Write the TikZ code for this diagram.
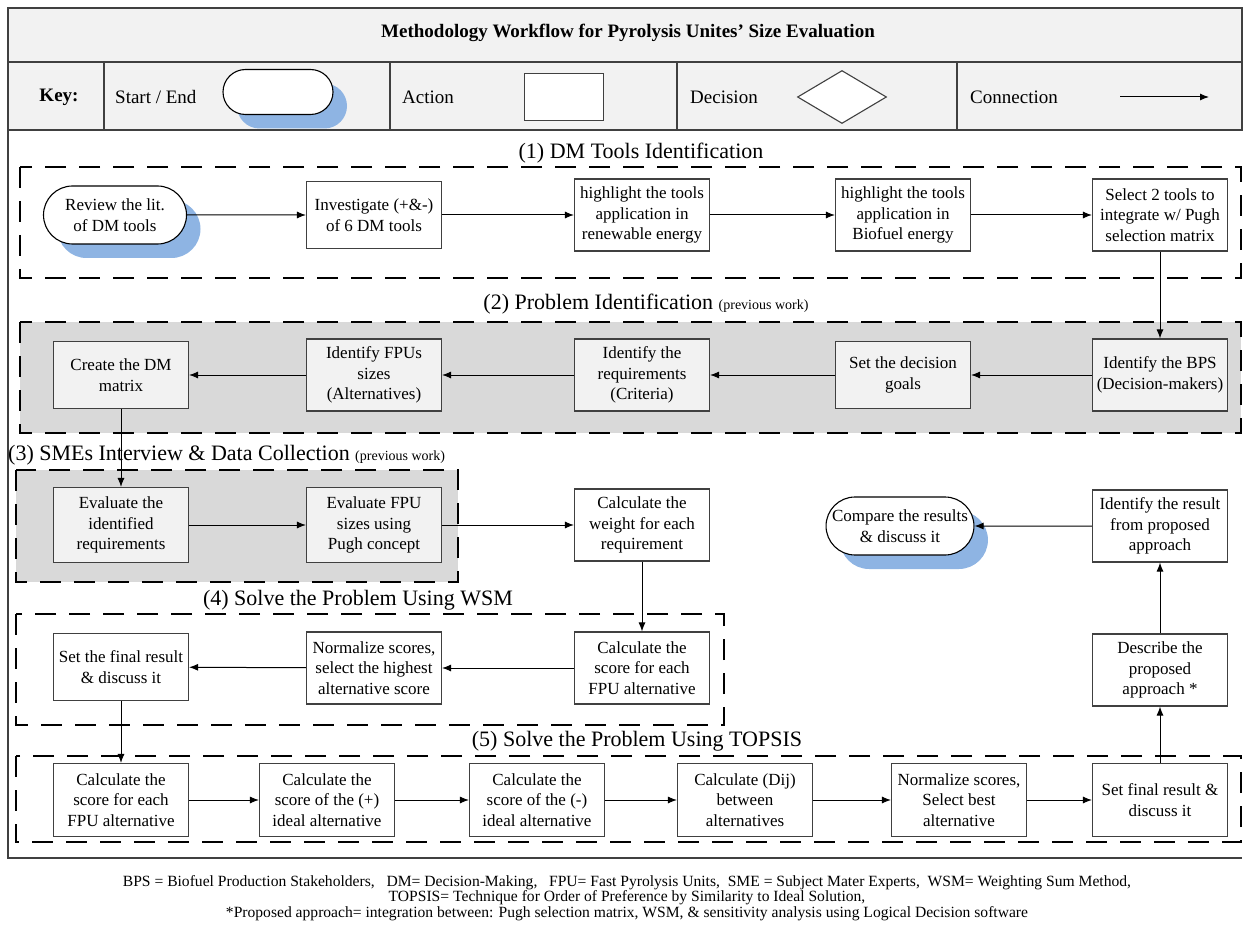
\documentclass[tikz,border=0pt]{standalone}
\usepackage{fontspec}
\setmainfont{Liberation Serif}
\usetikzlibrary{arrows.meta,shapes.misc,shapes.geometric,shadows}
\definecolor{keygray}{HTML}{F2F2F2}
\definecolor{secgray}{HTML}{D9D9D9}
\definecolor{shadeblue}{HTML}{8EB4E3}
\definecolor{linegray}{HTML}{404040}
\newcommand{\bxfont}{\fontsize{17}{20.5}\selectfont}
\newcommand{\secfont}{\fontsize{22}{26}\selectfont}
\newcommand{\prevfont}{\fontsize{14}{16}\selectfont}

\begin{document}
\begin{tikzpicture}[x=1pt,y=-1pt,
    act/.style={draw=linegray, line width=1.1pt, fill=white, minimum width=135pt,
      minimum height=67pt, inner sep=2pt, align=center, font=\bxfont},
    tall/.style={act, minimum height=72pt},
    termnode/.style={rounded rectangle, draw=black, line width=1.1pt, fill=white,
      minimum width=145pt, minimum height=58pt, inner sep=1pt, align=center, font=\bxfont,
      drop shadow={shadow xshift=14pt, shadow yshift=-14pt, fill=shadeblue, opacity=1}},
    secbox/.style={draw=black, line width=1.4pt, dash pattern=on 21pt off 13pt},
    seclabel/.style={font=\secfont, inner sep=0pt},
    keytext/.style={font=\fontsize{19}{22}\selectfont, inner sep=0pt, anchor=west},
    arr/.style={-{Latex[length=9pt,width=7pt]}, line width=1pt, black}]
    \useasboundingbox (0,0) rectangle (1243,928);

    % Kopf und Legende
    \draw[draw=linegray, line width=1.2pt, fill=keygray] (8,8) rectangle (1242,62);
    \draw[draw=linegray, line width=1.2pt, fill=keygray] (8,62) rectangle (1242,130);
    \foreach \xd in {104,390,677,957}
      \draw[linegray, line width=1.2pt] (\xd,62) -- (\xd,130);
    \draw[linegray, line width=1.2pt] (8,130) -- (8,858) -- (1242,858);
    \node[font=\bfseries\fontsize{19}{22}\selectfont] (title) at (628,33)
      {Methodology Workflow for Pyrolysis Unites' Size Evaluation};
    \node[font=\bfseries\fontsize{19}{22}\selectfont, inner sep=0pt] (keyname) at (59,97) {Key:};
    \node[keytext] (keystart) at (115,97) {Start / End};
    \node[termnode, minimum width=112pt, minimum height=45pt] (keyterm) at (278,92) {};
    \node[keytext] (keyaction) at (402,97) {Action};
    \node[draw=linegray, line width=1.1pt, fill=white, minimum width=79pt, minimum height=47pt,
      inner sep=0pt] (keybox) at (564,97) {};
    \node[keytext] (keydecision) at (690,97) {Decision};
    \node[diamond, draw=linegray, line width=1.1pt, fill=white, minimum width=89pt,
      minimum height=53pt, inner sep=0pt] (keydiamond) at (842,97) {};
    \node[keytext] (keyconn) at (970,97) {Connection};
    \coordinate (conna) at (1120,97);
    \coordinate (connb) at (1209,97);
    \draw[arr] (conna) -- (connb);

    % Abschnitte
    \draw[secbox] (20,167) rectangle (1241,278);
    \draw[secbox, fill=secgray] (20,322) rectangle (1241,433);
    \draw[secbox, fill=secgray] (16,470) rectangle (458,582);
    \draw[secbox] (16,614) rectangle (724,725);
    \draw[secbox] (16,756) rectangle (1241,842);

    \node[seclabel] (lab1) at (641,153) {(1) DM Tools Identification};
    \node[seclabel] (lab2) at (646,304) {(2) Problem Identification {\prevfont (previous work)}};
    \node[seclabel, anchor=west] (lab3) at (8,455) {(3) SMEs Interview \& Data Collection {\prevfont (previous work)}};
    \node[seclabel] (lab4) at (358,600) {(4) Solve the Problem Using WSM};
    \node[seclabel] (lab5) at (637,741) {(5) Solve the Problem Using TOPSIS};

    % (1)
    \node[termnode] (review) at (115,215) {Review the lit.\\of DM tools};
    \node[act] (investigate) at (374,215) {Investigate (+\&-)\\of 6 DM tools};
    \node[tall] (hlrenew) at (642,215) {highlight the tools\\application in\\renewable energy};
    \node[tall] (hlbio) at (903,215) {highlight the tools\\application in\\Biofuel energy};
    \node[tall] (selecttools) at (1160,215) {Select 2 tools to\\integrate w/ Pugh\\selection matrix};

    % (2)
    \node[tall, fill=keygray] (idbps) at (1160,375) {Identify the BPS\\(Decision-makers)};
    \node[act, fill=keygray] (setgoals) at (903,375) {Set the decision\\goals};
    \node[tall, fill=keygray] (idreq) at (642,375) {Identify the\\requirements\\(Criteria)};
    \node[tall, fill=keygray] (idfpu) at (374,375) {Identify FPUs\\sizes\\(Alternatives)};
    \node[act, fill=keygray] (dmmatrix) at (121,375) {Create the DM\\matrix};

    % (3)
    \node[tall, fill=keygray, minimum height=75pt] (evalreq) at (121,525) {Evaluate the\\identified\\requirements};
    \node[tall, fill=keygray, minimum height=75pt] (evalfpu) at (374,525) {Evaluate FPU\\sizes using\\Pugh concept};
    \node[tall] (calcweight) at (642,525) {Calculate the\\weight for each\\requirement};
    \node[termnode] (compare) at (900,526) {Compare the results\\\& discuss it};
    \node[tall] (idresult) at (1160,526) {Identify the result\\from proposed\\approach};

    % (4)
    \node[tall] (wsmscore) at (642,668) {Calculate the\\score for each\\FPU alternative};
    \node[tall] (wsmnorm) at (374,668) {Normalize scores,\\select the highest\\alternative score};
    \node[act] (wsmfinal) at (121,667) {Set the final result\\\& discuss it};
    \node[tall] (describe) at (1160,670) {Describe the\\proposed\\approach *};

    % (5)
    \node[tall, minimum height=73pt] (tpscore) at (121,800) {Calculate the\\score for each\\FPU alternative};
    \node[tall, minimum height=73pt] (tpplus) at (327,800) {Calculate the\\score of the (+)\\ideal alternative};
    \node[tall, minimum height=73pt] (tpminus) at (537,800) {Calculate the\\score of the (-)\\ideal alternative};
    \node[tall, minimum height=73pt] (tpdij) at (745,800) {Calculate (Dij)\\between\\alternatives};
    \node[tall, minimum height=73pt] (tpnorm) at (959,800) {Normalize scores,\\Select best\\alternative};
    \node[tall, minimum height=73pt] (tpfinal) at (1160,800) {Set final result \&\\discuss it};

    % Pfeile
    \draw[arr] (review) -- (investigate);
    \draw[arr] (investigate) -- (hlrenew);
    \draw[arr] (hlrenew) -- (hlbio);
    \draw[arr] (hlbio) -- (selecttools);
    \draw[arr] (selecttools) -- (idbps);
    \draw[arr] (idbps) -- (setgoals);
    \draw[arr] (setgoals) -- (idreq);
    \draw[arr] (idreq) -- (idfpu);
    \draw[arr] (idfpu) -- (dmmatrix);
    \draw[arr] (dmmatrix) -- (evalreq);
    \draw[arr] (evalreq) -- (evalfpu);
    \draw[arr] (evalfpu) -- (calcweight);
    \draw[arr] (calcweight) -- (wsmscore);
    \draw[arr] (wsmscore) -- (wsmnorm);
    \draw[arr] (wsmnorm) -- (wsmfinal);
    \draw[arr] (wsmfinal) -- (tpscore);
    \draw[arr] (tpscore) -- (tpplus);
    \draw[arr] (tpplus) -- (tpminus);
    \draw[arr] (tpminus) -- (tpdij);
    \draw[arr] (tpdij) -- (tpnorm);
    \draw[arr] (tpnorm) -- (tpfinal);
    \draw[arr] (tpfinal) -- (describe);
    \draw[arr] (describe) -- (idresult);
    \draw[arr] (idresult) -- (compare);

    % Legende unten
    \node[font=\fontsize{15.6}{15.5}\selectfont, align=center, inner sep=0pt] (footnote) at (627,898)
      {BPS = Biofuel Production Stakeholders, \ \ DM= Decision-Making, \ \ FPU= Fast Pyrolysis Units, \ SME = Subject Mater Experts, \ WSM= Weighting Sum Method,\\
       TOPSIS= Technique for Order of Preference by Similarity to Ideal Solution,\\
       *Proposed approach= integration between: Pugh selection matrix, WSM, \& sensitivity analysis using Logical Decision software};
\end{tikzpicture}
\end{document}
